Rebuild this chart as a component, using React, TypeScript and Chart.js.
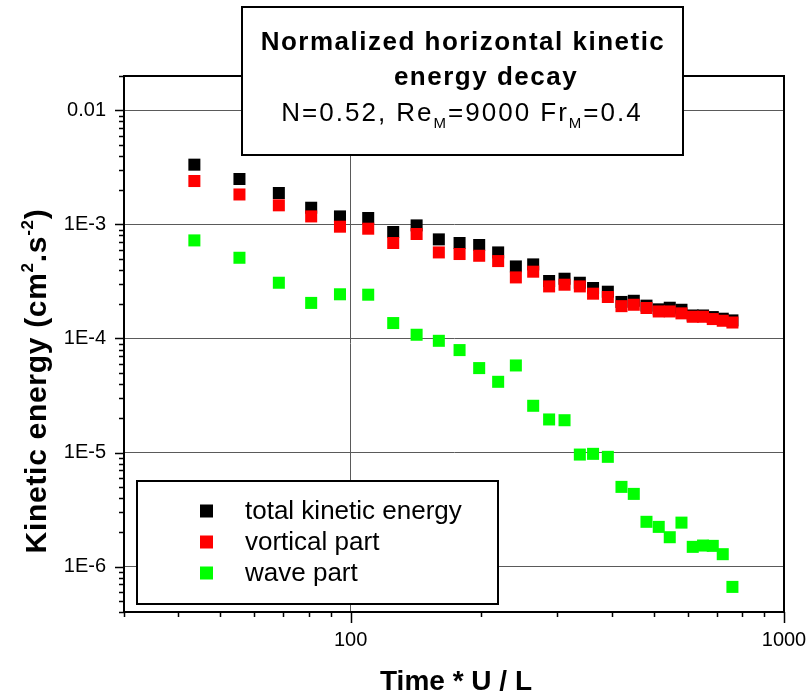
import React, { useEffect, useRef } from 'react';
import { Chart, registerables } from 'chart.js';

Chart.register(...registerables);

// ---- data ----
const timeValues = [43.6, 55.4, 68.3, 81.1, 94.5, 109.8, 125.4, 142.0, 159.8, 178.4, 198.0, 219.0, 240.6, 263.8, 287.1, 311.6, 338.0, 362.6, 392.2, 421.7, 450.2, 481.6, 514.0, 545.0, 580.0, 615.8, 650.5, 684.9, 722.2, 760.3];
const totalEnergy = [3.34e-3, 2.5e-3, 1.885e-3, 1.4e-3, 1.175e-3, 1.138e-3, 8.58e-4, 9.8e-4, 7.39e-4, 6.87e-4, 6.6e-4, 5.68e-4, 4.28e-4, 4.46e-4, 3.19e-4, 3.34e-4, 3.08e-4, 2.77e-4, 2.57e-4, 2.09e-4, 2.14e-4, 1.94e-4, 1.8e-4, 1.86e-4, 1.785e-4, 1.59e-4, 1.59e-4, 1.54e-4, 1.49e-4, 1.44e-4];
const vorticalPart = [2.4e-3, 1.83e-3, 1.47e-3, 1.175e-3, 9.55e-4, 9.17e-4, 6.87e-4, 8.24e-4, 5.68e-4, 5.5e-4, 5.31e-4, 4.77e-4, 3.43e-4, 3.85e-4, 2.86e-4, 2.96e-4, 2.86e-4, 2.47e-4, 2.31e-4, 1.92e-4, 1.975e-4, 1.85e-4, 1.725e-4, 1.725e-4, 1.66e-4, 1.55e-4, 1.55e-4, 1.48e-4, 1.43e-4, 1.38e-4];
const wavePart = [7.24e-4, 5.1e-4, 3.08e-4, 2.05e-4, 2.44e-4, 2.42e-4, 1.365e-4, 1.078e-4, 9.54e-5, 7.91e-5, 5.5e-5, 4.17e-5, 5.8e-5, 2.57e-5, 1.95e-5, 1.92e-5, 9.6e-6, 9.74e-6, 9.17e-6, 5.0e-6, 4.34e-6, 2.47e-6, 2.23e-6, 1.81e-6, 2.43e-6, 1.49e-6, 1.53e-6, 1.52e-6, 1.285e-6, 6.64e-7];

const seriesNames = ['total kinetic energy', 'vortical part', 'wave part'];
const seriesColors = ['#000000', '#ff0000', '#00ff00'];

const xMajorTicks = [100, 1000];
const xTickLabels = ['100', '1000'];
const yMajorTicks = [1e-6, 1e-5, 1e-4, 1e-3, 1e-2];
const yTickLabels = ['1E-6', '1E-5', '1E-4', '1E-3', '0.01'];
const minorMultipliers = [2, 3, 4, 5, 6, 7, 8, 9];

const X_MIN = 30;
const X_MAX = 1000;
const Y_MIN = 4e-7;
const Y_MAX = 0.02;

const titleLines = ['Normalized horizontal kinetic', 'energy decay'];
const xTitle = 'Time * U / L';

const FONT = "'Liberation Sans', Arial, Helvetica, sans-serif";

function toPoints(ys: number[]) {
  return timeValues.map((t, i) => ({ x: t, y: ys[i] }));
}

function drawSegments(ctx: CanvasRenderingContext2D, segs: { t: string; f: string; dy: number }[], cx: number, y: number, spacing: string) {
  let total = 0;
  const widths: number[] = [];
  for (const s of segs) {
    ctx.font = s.f;
    (ctx as any).letterSpacing = spacing;
    const w = ctx.measureText(s.t).width;
    widths.push(w);
    total += w;
  }
  let x = cx - total / 2;
  segs.forEach((s, i) => {
    ctx.font = s.f;
    (ctx as any).letterSpacing = spacing;
    ctx.fillText(s.t, x, y + s.dy);
    x += widths[i];
  });
}

const decorPlugin = {
  id: 'decor',
  afterDraw(chart: any) {
    const ctx: CanvasRenderingContext2D = chart.ctx;
    const area = chart.chartArea;
    const xs = chart.scales.x;
    const ys = chart.scales.y;
    ctx.save();
    ctx.textAlign = 'left';
    ctx.textBaseline = 'alphabetic';

    // frame (top & right)
    ctx.strokeStyle = '#000';
    ctx.lineWidth = 2;
    ctx.beginPath();
    ctx.moveTo(area.left, area.top);
    ctx.lineTo(area.right, area.top);
    ctx.lineTo(area.right, area.bottom);
    ctx.stroke();

    // tick marks
    ctx.lineWidth = 1.5;
    ctx.beginPath();
    for (let e = -7; e <= -2; e++) {
      const base = Math.pow(10, e);
      [1, ...minorMultipliers].forEach((m) => {
        const v = m * base;
        if (v < Y_MIN * 0.999 || v > Y_MAX * 1.001) return;
        const py = Math.round(ys.getPixelForValue(v)) + 0.5;
        const len = m === 1 ? 9 : 5;
        ctx.moveTo(area.left - len, py);
        ctx.lineTo(area.left, py);
      });
    }
    for (let e = 1; e <= 3; e++) {
      const base = Math.pow(10, e);
      [1, ...minorMultipliers].forEach((m) => {
        const v = m * base;
        if (v < X_MIN * 0.999 || v > X_MAX * 1.001) return;
        const px = Math.round(xs.getPixelForValue(v)) + 0.5;
        const len = m === 1 ? 11 : 5;
        ctx.moveTo(px, area.bottom);
        ctx.lineTo(px, area.bottom + len);
      });
    }
    ctx.stroke();

    // title box
    ctx.fillStyle = '#fff';
    ctx.fillRect(242, 7, 441, 148);
    ctx.strokeStyle = '#000';
    ctx.lineWidth = 2;
    ctx.strokeRect(242, 7, 441, 148);
    ctx.fillStyle = '#000';
    ctx.textAlign = 'left';
    drawSegments(ctx, [{ t: titleLines[0], f: `bold 26px ${FONT}`, dy: 0 }], 463, 50, '1.5px');
    drawSegments(ctx, [{ t: titleLines[1], f: `bold 26px ${FONT}`, dy: 0 }], 486, 85, '1.5px');
    drawSegments(
      ctx,
      [
        { t: 'N=0.52, Re', f: `26px ${FONT}`, dy: 0 },
        { t: 'M', f: `15px ${FONT}`, dy: 7 },
        { t: '=9000 Fr', f: `26px ${FONT}`, dy: 0 },
        { t: 'M', f: `15px ${FONT}`, dy: 7 },
        { t: '=0.4', f: `26px ${FONT}`, dy: 0 },
      ],
      462,
      121,
      '2px'
    );
    (ctx as any).letterSpacing = '0px';

    // legend box
    ctx.fillStyle = '#fff';
    ctx.fillRect(137, 481, 361, 123);
    ctx.strokeStyle = '#000';
    ctx.lineWidth = 2;
    ctx.strokeRect(137, 481, 361, 123);
    const rows = [511, 542, 573];
    ctx.textBaseline = 'middle';
    ctx.font = `26px ${FONT}`;
    seriesNames.forEach((name, i) => {
      ctx.fillStyle = seriesColors[i];
      ctx.fillRect(200, rows[i] - 6.5, 13, 13);
      ctx.fillStyle = '#000';
      ctx.fillText(name, 245, rows[i] + 1);
    });

    // x title
    ctx.textBaseline = 'alphabetic';
    ctx.fillStyle = '#000';
    drawSegments(ctx, [{ t: xTitle, f: `bold 28px ${FONT}`, dy: 0 }], 456, 690, '0px');

    // y title (rotated)
    ctx.save();
    ctx.translate(46, 381);
    ctx.rotate(-Math.PI / 2);
    drawSegments(
      ctx,
      [
        { t: 'Kinetic energy (cm', f: `bold 30px ${FONT}`, dy: 0 },
        { t: '2', f: `bold 17px ${FONT}`, dy: -13 },
        { t: '.s', f: `bold 30px ${FONT}`, dy: 0 },
        { t: '-2', f: `bold 17px ${FONT}`, dy: -13 },
        { t: ')', f: `bold 30px ${FONT}`, dy: 0 },
      ],
      0,
      0,
      '0.7px'
    );
    ctx.restore();

    ctx.restore();
  },
};

export default function App() {
  const canvasRef = useRef<HTMLCanvasElement | null>(null);

  useEffect(() => {
    document.body.style.margin = '0';
    const canvas = canvasRef.current;
    if (!canvas) return;
    const chart = new Chart(canvas, {
      type: 'scatter',
      data: {
        datasets: [
          { label: seriesNames[0], data: toPoints(totalEnergy), backgroundColor: seriesColors[0], order: 1 },
          { label: seriesNames[1], data: toPoints(vorticalPart), backgroundColor: seriesColors[1], order: 0 },
          { label: seriesNames[2], data: toPoints(wavePart), backgroundColor: seriesColors[2], order: 2 },
        ],
      },
      options: {
        responsive: false,
        animation: false,
        devicePixelRatio: 1,
        layout: { padding: { top: 76, right: 27, left: 0, bottom: 0 } },
        elements: {
          point: { pointStyle: 'rect', radius: 8.5, borderWidth: 0, hoverRadius: 8.5 },
        },
        plugins: {
          legend: { display: false },
          title: { display: false },
          tooltip: { enabled: false },
        },
        scales: {
          x: {
            type: 'logarithmic',
            position: 'bottom',
            min: X_MIN,
            max: X_MAX,
            afterBuildTicks: (s: any) => {
              s.ticks = xMajorTicks.map((v) => ({ value: v }));
            },
            afterFit: (s: any) => {
              s.height = 85;
              s.paddingLeft = 0;
              s.paddingRight = 0;
            },
            ticks: {
              autoSkip: false,
              maxRotation: 0,
              padding: 16,
              color: '#000',
              font: { family: FONT, size: 20 },
              callback: (v: any) => {
                const i = xMajorTicks.indexOf(Number(v));
                return i >= 0 ? xTickLabels[i] : '';
              },
            },
            grid: { color: '#5a5a5a', lineWidth: 1, drawTicks: false },
            border: { color: '#000', width: 2 },
          },
          y: {
            type: 'logarithmic',
            position: 'left',
            min: Y_MIN,
            max: Y_MAX,
            afterBuildTicks: (s: any) => {
              s.ticks = yMajorTicks.map((v) => ({ value: v }));
            },
            afterFit: (s: any) => {
              s.width = 124;
              s.paddingTop = 0;
              s.paddingBottom = 0;
            },
            ticks: {
              autoSkip: false,
              padding: 18,
              color: '#000',
              font: { family: FONT, size: 20 },
              callback: (v: any) => {
                const n = Number(v);
                const i = yMajorTicks.findIndex((m) => Math.abs(m - n) / m < 1e-6);
                return i >= 0 ? yTickLabels[i] : '';
              },
            },
            grid: { color: '#5a5a5a', lineWidth: 1, drawTicks: false },
            border: { color: '#000', width: 2 },
          },
        },
      },
      plugins: [decorPlugin],
    } as any);
    return () => chart.destroy();
  }, []);

  return (
    <div style={{ width: 811, height: 697, position: 'relative' }}>
      <canvas ref={canvasRef} width={811} height={697} style={{ display: 'block', width: 811, height: 697 }} />
    </div>
  );
}
